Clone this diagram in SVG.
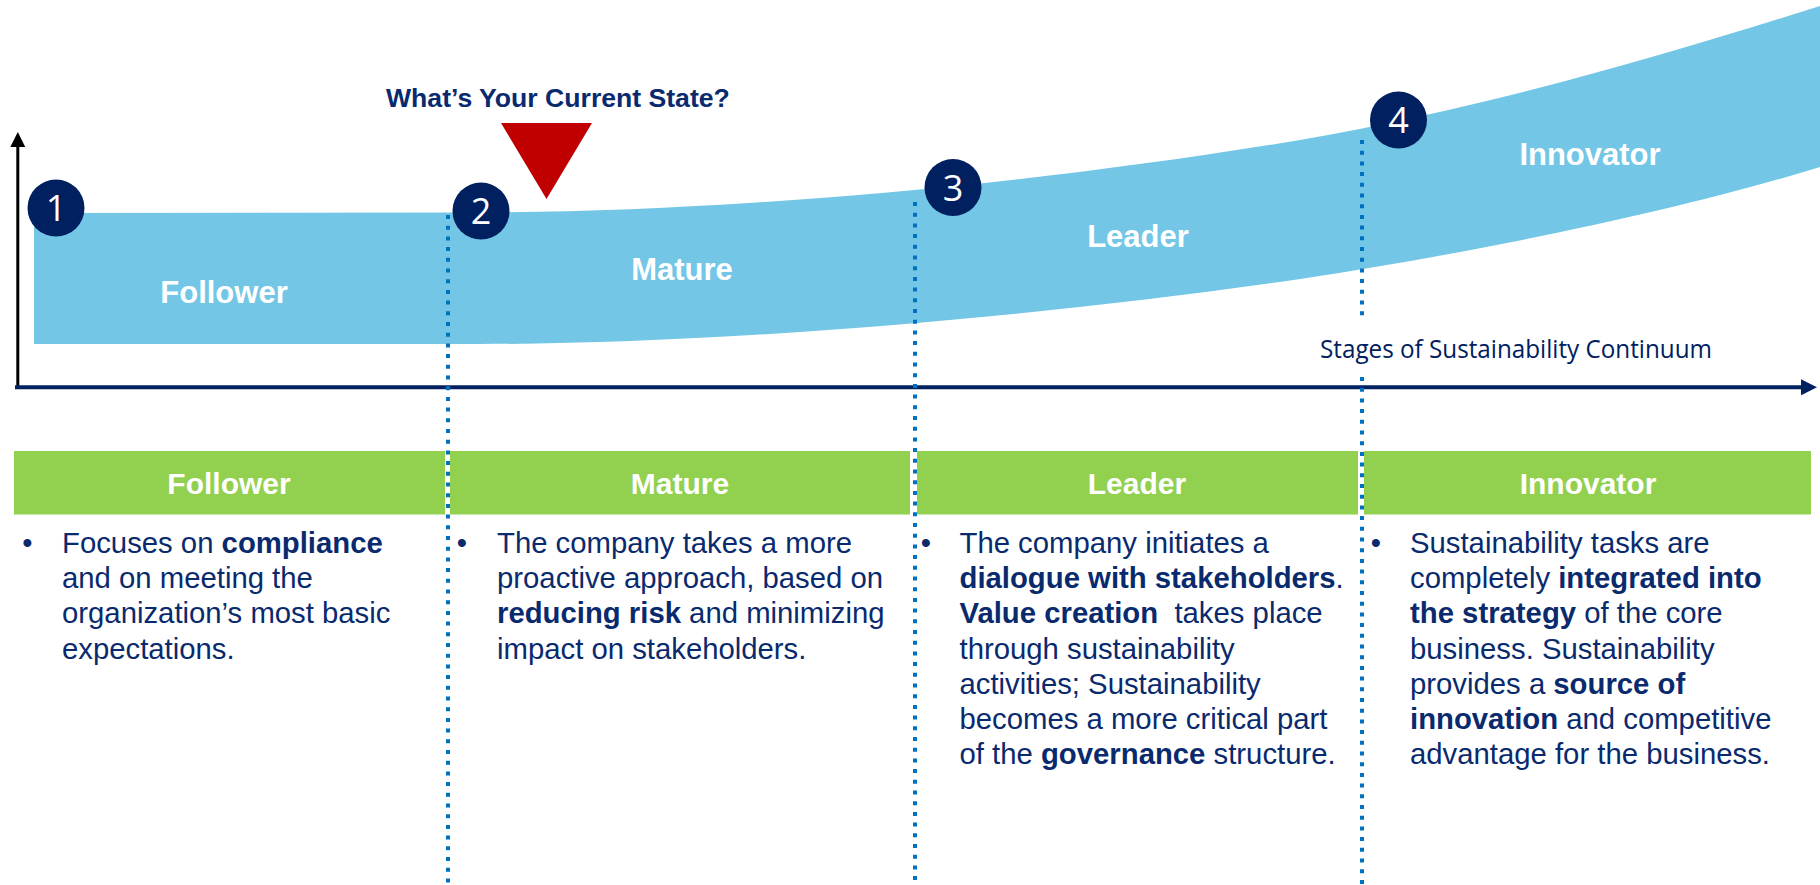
<svg xmlns="http://www.w3.org/2000/svg" width="1820" height="885" viewBox="0 0 1820 885">
  <style>
    .band-label { font-family: "Liberation Sans", Arial, sans-serif; font-weight: bold; font-size: 31px; fill: #ffffff; text-anchor: middle; }
    .head-label { font-family: "Liberation Sans", Arial, sans-serif; font-weight: bold; font-size: 30px; fill: #ffffff; text-anchor: middle; }
    .num { font-family: "Open Sans", "Noto Sans", sans-serif; font-size: 36px; fill: #ffffff; text-anchor: middle; }
    .badge { fill: #002060; }
    .body { font-family: "Liberation Sans", Arial, sans-serif; font-size: 29.3px; fill: #0a2a6e; }
    .body .b { font-weight: bold; }
    .bullet { font-family: "Liberation Sans", Arial, sans-serif; font-size: 29.3px; fill: #0a2a6e; text-anchor: middle; }
    .divider { stroke: #0070c0; stroke-width: 4; stroke-dasharray: 4 6.7; fill: none; }
    .green { fill: #92d050; }
  </style>
  <defs>
    <marker id="arrowBlack" viewBox="0 0 10 10" refX="0" refY="5" markerWidth="5" markerHeight="5" markerUnits="strokeWidth" orient="auto">
      <path d="M0,0 L10,5 L0,10 Z" fill="#000000"/>
    </marker>
    <marker id="arrowNavy" viewBox="0 0 10 10" refX="0" refY="5" markerWidth="4" markerHeight="4" markerUnits="strokeWidth" orient="auto">
      <path d="M0,0 L10,5 L0,10 Z" fill="#002060"/>
    </marker>
  </defs>

  <rect width="1820" height="885" fill="#ffffff"/>

  <!-- rising stage band -->
  <g id="band">
    <path d="M34,213 L480,212.5 C700,212 1000,190 1300,140 C1500,105 1680,50 1820,6 L1820,167 C1680,210 1490,250 1300,279 C1000,322 700,344 480,344 L34,344 Z" fill="#73c6e5"/>
    <text class="band-label" x="224" y="303">Follower</text>
    <text class="band-label" x="682" y="280">Mature</text>
    <text class="band-label" x="1138" y="247">Leader</text>
    <text class="band-label" x="1590" y="165">Innovator</text>
  </g>

  <!-- header bar -->
  <g id="header-bar">
    <rect class="green" x="14" y="451" width="431" height="63.5"/>
    <rect class="green" x="450" y="451" width="460" height="63.5"/>
    <rect class="green" x="917" y="451" width="441" height="63.5"/>
    <rect class="green" x="1364" y="451" width="447" height="63.5"/>
    <text class="head-label" x="229" y="494">Follower</text>
    <text class="head-label" x="680" y="494">Mature</text>
    <text class="head-label" x="1137" y="494">Leader</text>
    <text class="head-label" x="1588" y="494">Innovator</text>
  </g>

  <!-- axes and stage dividers -->
  <g id="connectors">
    <line x1="17.8" y1="388" x2="17.8" y2="147" stroke="#000000" stroke-width="3" marker-end="url(#arrowBlack)"/>
    <line x1="15" y1="387.3" x2="1801" y2="387.3" stroke="#002060" stroke-width="4" marker-end="url(#arrowNavy)"/>
    <line class="divider" x1="448" y1="215" x2="448" y2="885"/>
    <line class="divider" x1="915" y1="202" x2="915" y2="885"/>
    <line class="divider" x1="1362" y1="140" x2="1362" y2="322"/>
    <line class="divider" x1="1362" y1="377" x2="1362" y2="885"/>
  </g>

  <g id="axis-label">
    <text x="1320" y="358" font-family="'Open Sans', 'Noto Sans', sans-serif" font-size="25" fill="#002060" textLength="392" lengthAdjust="spacingAndGlyphs">Stages of Sustainability Continuum</text>
  </g>

  <!-- current state marker -->
  <g id="current-state">
    <text x="386" y="107" font-family="'Liberation Sans', Arial, sans-serif" font-weight="bold" font-size="26.6" fill="#0a2a6e">What’s Your Current State?</text>
    <path d="M501,123 L592,123 L546.5,199 Z" fill="#c00000"/>
  </g>

  <!-- numbered stage badges -->
  <g id="badge-1">
    <circle class="badge" cx="56" cy="208" r="28.5"/>
    <text class="num" x="56" y="221">1</text>
  </g>
  <g id="badge-2">
    <circle class="badge" cx="481" cy="211" r="28.5"/>
    <text class="num" x="481" y="224">2</text>
  </g>
  <g id="badge-3">
    <circle class="badge" cx="953" cy="187.5" r="28.5"/>
    <text class="num" x="953" y="200.5">3</text>
  </g>
  <g id="badge-4">
    <circle class="badge" cx="1398.5" cy="120" r="28.5"/>
    <text class="num" x="1398.5" y="133">4</text>
  </g>

  <!-- stage descriptions -->
  <g id="desc-follower">
    <text class="bullet" x="27.5" y="553">•</text>
    <text class="body">
      <tspan x="62" y="553">Focuses on <tspan class="b">compliance</tspan></tspan>
      <tspan x="62" y="588.2">and on meeting the</tspan>
      <tspan x="62" y="623.4">organization’s most basic</tspan>
      <tspan x="62" y="658.6">expectations.</tspan>
    </text>
  </g>
  <g id="desc-mature">
    <text class="bullet" x="462" y="553">•</text>
    <text class="body">
      <tspan x="497" y="553">The company takes a more</tspan>
      <tspan x="497" y="588.2">proactive approach, based on</tspan>
      <tspan x="497" y="623.4"><tspan class="b">reducing risk</tspan> and minimizing</tspan>
      <tspan x="497" y="658.6">impact on stakeholders.</tspan>
    </text>
  </g>
  <g id="desc-leader">
    <text class="bullet" x="926" y="553">•</text>
    <text class="body" xml:space="preserve">
      <tspan x="959.5" y="553">The company initiates a</tspan>
      <tspan x="959.5" y="588.2"><tspan class="b">dialogue with stakeholders</tspan>.</tspan>
      <tspan x="959.5" y="623.4"><tspan class="b">Value creation</tspan>  takes place</tspan>
      <tspan x="959.5" y="658.6">through sustainability</tspan>
      <tspan x="959.5" y="693.8">activities; Sustainability</tspan>
      <tspan x="959.5" y="729">becomes a more critical part</tspan>
      <tspan x="959.5" y="764.2">of the <tspan class="b">governance</tspan> structure.</tspan>
    </text>
  </g>
  <g id="desc-innovator">
    <text class="bullet" x="1376" y="553">•</text>
    <text class="body">
      <tspan x="1410" y="553">Sustainability tasks are</tspan>
      <tspan x="1410" y="588.2">completely <tspan class="b">integrated into</tspan></tspan>
      <tspan x="1410" y="623.4"><tspan class="b">the strategy</tspan> of the core</tspan>
      <tspan x="1410" y="658.6">business. Sustainability</tspan>
      <tspan x="1410" y="693.8">provides a <tspan class="b">source of</tspan></tspan>
      <tspan x="1410" y="729"><tspan class="b">innovation</tspan> and competitive</tspan>
      <tspan x="1410" y="764.2">advantage for the business.</tspan>
    </text>
  </g>
</svg>
